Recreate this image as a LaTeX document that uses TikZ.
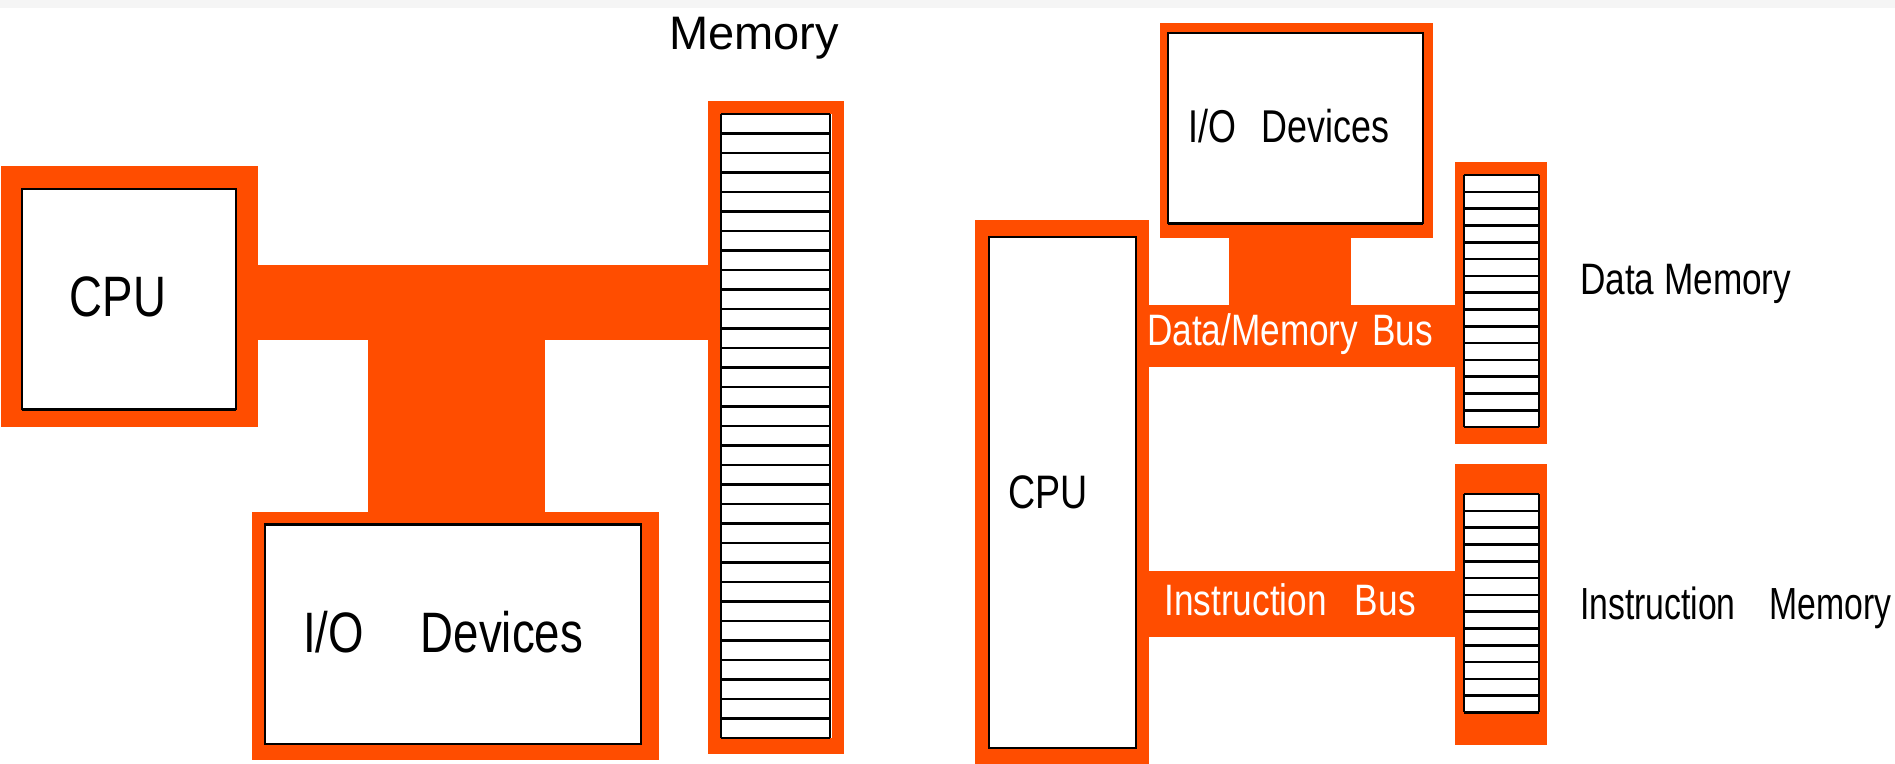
\documentclass[tikz,border=0pt]{standalone}
\usepackage{fontspec}
\setmainfont{Liberation Sans}
\definecolor{busc}{RGB}{255,77,0}
\tikzset{
  frame/.style={fill=busc, draw=none, inner sep=0pt, outer sep=0pt},
  innerbox/.style={fill=white, draw=black, line width=1.5pt, inner sep=0pt, outer sep=0pt},
  lbl/.style={anchor=base, inner sep=0pt, outer sep=0pt},
  cellline/.style={line width=2.6pt, draw=black},
}
\newcommand{\tx}[3][0.8]{\fontsize{#2}{#2}\selectfont\scalebox{#1}[1]{#3}}
\begin{document}
\begin{tikzpicture}[x=1pt,y=-1pt]
\useasboundingbox (0,0) rectangle (1895,763);
\fill[black!4] (0,0) rectangle (1895,8);

% ---------------- left diagram ----------------
\node[frame, minimum width=257pt, minimum height=261pt] (cpuLo) at (129.5,296.5) {};
\node[innerbox, minimum width=214pt, minimum height=220pt] (cpuLi) at (129,299) {};
\draw[line width=3pt] (cpuLi.south west) -- (cpuLi.south east);
\node[frame, minimum width=136pt, minimum height=653pt] (memLo) at (776,427.5) {};
\node[fill=white, inner sep=0pt, minimum width=112pt, minimum height=624pt] (memLi) at (775.5,425.5) {};
\node[frame, minimum width=407pt, minimum height=248pt] (ioLo) at (455.5,636) {};
\node[innerbox, minimum width=376pt, minimum height=220pt] (ioLi) at (453,634) {};
\draw[line width=3pt] (ioLi.north west) -- (ioLi.north east);
% buses
\fill[busc] (cpuLo.east |- 0,265) rectangle (memLo.west |- 0,340);
\fill[busc] (368,340) rectangle (545,0 |- ioLo.north);
% memory cells
\foreach \i in {0,...,32} {
  \draw[cellline] (721,{114+\i*19.5}) -- (830,{114+\i*19.5});
}
\draw[cellline] (721,114) -- (721,738);
\draw[cellline] (830,114) -- (830,738);
% labels
\node[lbl] (memLt) at (754,49) {\tx[1]{47}{Memory}};
\node[lbl] (cpuLt) at (118,316) {\tx{57}{CPU}};
\node[lbl] (ioLt) at (443,652) {\tx{57}{I/O\hspace{1.25em}Devices}};

% ---------------- right diagram ----------------
\node[frame, minimum width=273pt, minimum height=215pt] (ioRo) at (1296.5,130.5) {};
\node[innerbox, minimum width=255pt, minimum height=190pt] (ioRi) at (1295.5,128) {};
\draw[line width=3pt] (ioRi.south west) -- (ioRi.south east);
\node[frame, minimum width=174pt, minimum height=545pt] (cpuRo) at (1062,492.5) {};
\node[innerbox, minimum width=147pt, minimum height=511pt] (cpuRi) at (1062.5,492.5) {};
\node[frame, minimum width=92pt, minimum height=282pt] (dmemo) at (1501,303) {};
\node[fill=white, inner sep=0pt, minimum width=75pt, minimum height=252pt] (dmemi) at (1501.5,301) {};
\node[frame, minimum width=92pt, minimum height=281pt] (imemo) at (1501,604.5) {};
\node[fill=white, inner sep=0pt, minimum width=75pt, minimum height=218pt] (imemi) at (1501.5,603) {};
% buses
\fill[busc] (1229,0 |- ioRo.south) rectangle (1351,305);
\fill[busc] (cpuRo.east |- 0,305) rectangle (dmemo.west |- 0,367);
\fill[busc] (cpuRo.east |- 0,571) rectangle (imemo.west |- 0,637);
% memory cells
\foreach \i in {0,...,15} {
  \draw[cellline] (1464,{175+\i*16.8}) -- (1539,{175+\i*16.8});
}
\draw[cellline] (1464,175) -- (1464,427);
\draw[cellline] (1539,175) -- (1539,427);
\foreach \i in {0,...,13} {
  \draw[cellline] (1464,{494+\i*16.8}) -- (1539,{494+\i*16.8});
}
\draw[cellline] (1464,494) -- (1464,712.4);
\draw[cellline] (1539,494) -- (1539,712.4);
% labels
\node[lbl] (ioRt) at (1289,142) {\tx[0.78]{46}{I/O\hspace{0.7em}Devices}};
\node[lbl] (cpuRt) at (1048,508) {\tx{47}{CPU}};
\node[lbl, text=white] (dbust) at (1290,345) {\tx{44}{Data/Memory\hspace{0.4em}Bus}};
\node[lbl, text=white] (ibust) at (1290,615) {\tx{44}{Instruction\hspace{0.8em}Bus}};
\node[lbl, anchor=base west] (dmemt) at (1580,294) {\tx{44}{Data Memory}};
\node[lbl, anchor=base west] (imemt) at (1580,619) {\tx[0.75]{45}{Instruction\hspace{1em}Memory}};
\end{tikzpicture}
\end{document}
